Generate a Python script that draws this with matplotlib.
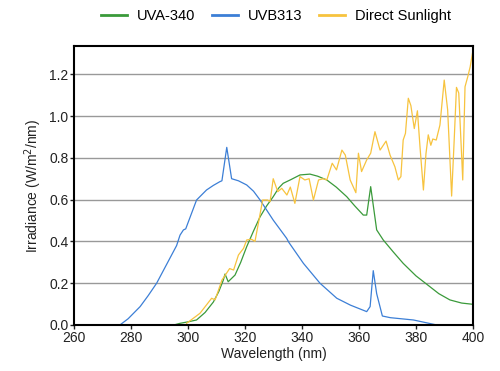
import matplotlib
matplotlib.use("Agg")
import matplotlib.pyplot as plt

plt.rcParams['font.family'] = ['Liberation Sans', 'DejaVu Sans']

# UVB313 lamp (blue)
uvb_nm = [276.1, 279.0, 283.2, 286.0, 289.0, 292.5, 296.0, 297.2, 298.4, 299.2, 303.0,
          306.5, 308.9, 311.2, 311.9, 313.6, 315.3, 317.7, 320.6, 323.0, 325.3, 329.9,
          334.6, 335.4, 340.5, 346.3, 352.2, 357.0, 362.7, 363.9, 365.0, 366.2, 368.2,
          371.0, 379.1, 387.3]
uvb_irr = [0.0, 0.03, 0.088, 0.14, 0.20, 0.29, 0.38, 0.43, 0.455, 0.46, 0.598,
           0.646, 0.668, 0.686, 0.69, 0.85, 0.70, 0.69, 0.67, 0.64, 0.598, 0.502,
           0.415, 0.395, 0.295, 0.20, 0.128, 0.095, 0.064, 0.088, 0.26, 0.15, 0.043,
           0.035, 0.024, 0.0]

# UVA-340 lamp (green)
uva_nm = [295.0, 297.2, 300.0, 303.0, 306.0, 308.9, 310.8, 312.4, 313.0, 314.1, 316.5,
          318.5, 320.6, 323.0, 325.3, 327.6, 329.9, 331.8, 333.4, 336.0, 339.3, 342.8,
          345.5, 348.7, 352.0, 355.7, 358.5, 361.5, 362.7, 364.1, 366.2, 368.5, 372.0,
          375.5, 380.0, 384.9, 388.0, 391.9, 396.0, 400.0]
uva_irr = [0.0, 0.008, 0.015, 0.024, 0.06, 0.11, 0.16, 0.215, 0.244, 0.207, 0.239,
           0.30, 0.375, 0.45, 0.518, 0.57, 0.614, 0.655, 0.678, 0.695, 0.718, 0.722,
           0.712, 0.694, 0.66, 0.614, 0.57, 0.526, 0.526, 0.662, 0.455, 0.407, 0.35,
           0.295, 0.235, 0.183, 0.15, 0.12, 0.105, 0.099]

# Direct sunlight (yellow)
sun_nm = [299.5, 304.2, 308.3, 309.5, 310.7, 311.9, 313.1, 314.6, 316.0, 317.7, 319.5,
          320.6, 322.3, 323.5, 324.6, 326.2, 327.9, 328.8, 329.9, 331.5, 332.9, 334.7,
          335.9, 337.5, 339.3, 341.0, 342.5, 344.0, 345.8, 347.5, 348.7, 350.6, 352.1,
          354.0, 355.2, 356.9, 358.9, 359.8, 360.9, 362.7, 364.1, 365.6, 367.4, 369.5,
          370.9, 372.6, 373.8, 374.7, 375.5, 376.3, 377.3, 378.2, 379.4, 380.5, 381.4,
          382.6, 383.5, 384.3, 385.2, 385.9, 387.1, 388.4, 389.9, 391.1, 392.5, 393.4,
          394.2, 395.0, 396.4, 397.2, 398.2, 399.0, 400.0]
sun_irr = [0.008, 0.056, 0.128, 0.12, 0.167, 0.215, 0.239, 0.27, 0.263, 0.335, 0.367,
           0.407, 0.41, 0.40, 0.48, 0.598, 0.598, 0.59, 0.70, 0.638, 0.654, 0.622,
           0.66, 0.582, 0.71, 0.694, 0.70, 0.598, 0.694, 0.70, 0.694, 0.774, 0.742,
           0.837, 0.813, 0.694, 0.633, 0.822, 0.734, 0.79, 0.822, 0.925, 0.837, 0.88,
           0.813, 0.757, 0.694, 0.71, 0.885, 0.917, 1.085, 1.05, 0.94, 1.025, 0.853,
           0.646, 0.82, 0.91, 0.86, 0.89, 0.885, 0.957, 1.172, 1.03, 0.617, 0.885,
           1.137, 1.11, 0.694, 1.14, 1.19, 1.235, 1.315]

fig = plt.figure(figsize=(5, 3.71), dpi=100)
ax = fig.add_axes([0.148, 0.124, 0.798, 0.752])

ax.plot(uva_nm, uva_irr, color='#3a9a3a', lw=0.9, label='UVA-340')
ax.plot(uvb_nm, uvb_irr, color='#3c7fd6', lw=0.9, label='UVB313')
ax.plot(sun_nm, sun_irr, color='#f7c33e', lw=0.9, label='Direct Sunlight')

ax.set_xlim(260, 400)
ax.set_ylim(0, 1.335)
ax.set_xticks(range(260, 401, 20))
ax.set_yticks([0.0, 0.2, 0.4, 0.6, 0.8, 1.0, 1.2])
ax.set_yticklabels(['0.0', '0.2', '0.4', '0.6', '0.8', '1.0', '1.2'])
ax.yaxis.grid(True, color='#999999', lw=1)
ax.set_axisbelow(True)
ax.tick_params(labelsize=10, length=3, width=1, pad=1, colors='#222222')
for s in ax.spines.values():
    s.set_color('black')
    s.set_linewidth(1.5)

ax.set_xlabel('Wavelength (nm)', fontsize=10, color='#222222', labelpad=2)
ax.set_ylabel('Irradiance (W/m$^2$/nm)', fontsize=10, color='#222222', labelpad=4)

leg = fig.legend(loc='upper center', bbox_to_anchor=(0.552, 1.01), ncol=3, frameon=False,
                 fontsize=10.5, handlelength=1.8, columnspacing=1.1, handletextpad=0.7)
for line in leg.get_lines():
    line.set_linewidth(2)

fig.savefig('out.png', dpi=100)
